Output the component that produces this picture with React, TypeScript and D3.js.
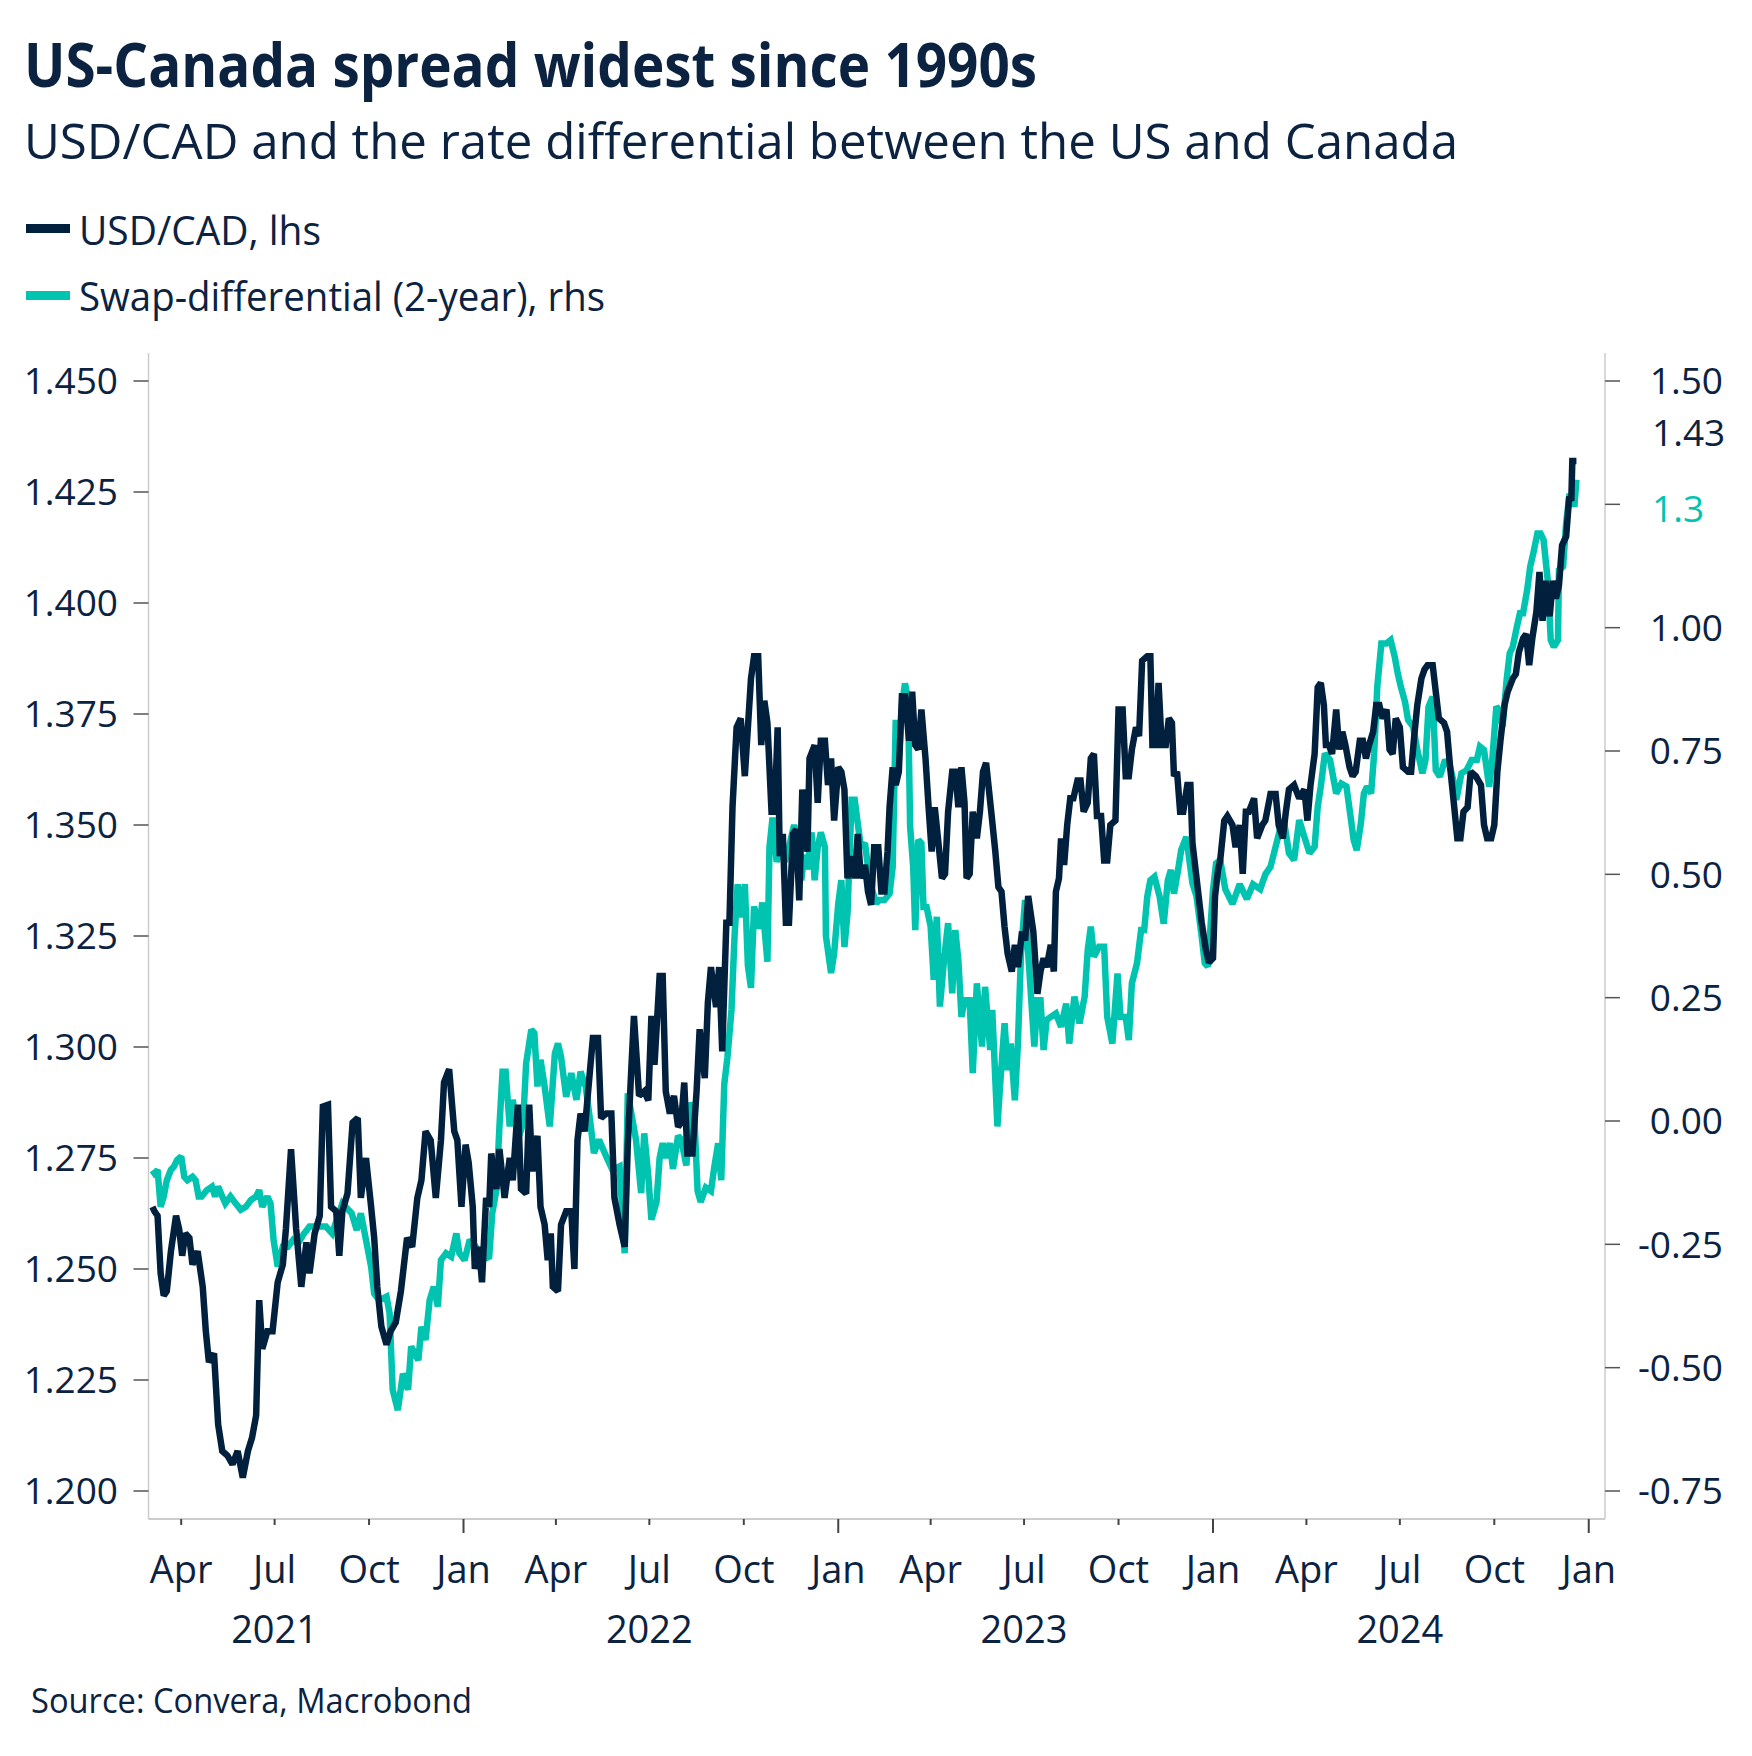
import React, { useEffect } from "react";
import * as d3 from "d3";

// ---------- DATA ----------
const usdcad: [string, number][] = [
  ["2021-03-04",1.264],["2021-03-06",1.263],["2021-03-09",1.262],["2021-03-12",1.249],["2021-03-15",1.244],
  ["2021-03-18",1.245],["2021-03-22",1.254],["2021-03-27",1.262],["2021-03-30",1.259],["2021-04-02",1.253],
  ["2021-04-05",1.258],["2021-04-09",1.257],["2021-04-12",1.251],["2021-04-17",1.254],["2021-04-22",1.246],
  ["2021-04-25",1.236],["2021-04-28",1.229],["2021-05-03",1.231],["2021-05-07",1.215],["2021-05-11",1.209],
  ["2021-05-16",1.208],["2021-05-21",1.206],["2021-05-26",1.209],["2021-05-31",1.203],["2021-06-05",1.209],
  ["2021-06-09",1.212],["2021-06-13",1.217],["2021-06-16",1.243],["2021-06-19",1.232],["2021-06-24",1.236],
  ["2021-06-29",1.236],["2021-07-04",1.247],["2021-07-09",1.251],["2021-07-12",1.259],["2021-07-17",1.277],
  ["2021-07-22",1.259],["2021-07-27",1.246],["2021-08-01",1.256],["2021-08-04",1.249],["2021-08-09",1.258],
  ["2021-08-14",1.262],["2021-08-17",1.2866],["2021-08-22",1.287],["2021-08-25",1.264],["2021-08-30",1.263],
  ["2021-09-02",1.253],["2021-09-05",1.263],["2021-09-10",1.267],["2021-09-15",1.283],["2021-09-20",1.284],
  ["2021-09-23",1.266],["2021-09-28",1.275],["2021-10-03",1.264],["2021-10-06",1.257],["2021-10-09",1.246],
  ["2021-10-13",1.237],["2021-10-18",1.233],["2021-10-22",1.236],["2021-10-27",1.238],["2021-11-01",1.245],
  ["2021-11-07",1.257],["2021-11-12",1.255],["2021-11-17",1.266],["2021-11-21",1.270],["2021-11-25",1.281],
  ["2021-11-30",1.279],["2021-12-05",1.266],["2021-12-10",1.279],["2021-12-13",1.292],["2021-12-18",1.295],
  ["2021-12-23",1.281],["2021-12-26",1.279],["2021-12-30",1.264],["2022-01-03",1.278],["2022-01-06",1.274],
  ["2022-01-10",1.264],["2022-01-12",1.250],["2022-01-16",1.255],["2022-01-19",1.247],["2022-01-23",1.266],
  ["2022-01-26",1.264],["2022-01-28",1.276],["2022-02-02",1.268],["2022-02-05",1.277],["2022-02-10",1.266],
  ["2022-02-15",1.275],["2022-02-18",1.270],["2022-02-23",1.287],["2022-02-26",1.268],["2022-03-03",1.267],
  ["2022-03-06",1.287],["2022-03-09",1.272],["2022-03-14",1.280],["2022-03-17",1.264],["2022-03-21",1.260],
  ["2022-03-24",1.252],["2022-03-27",1.258],["2022-03-29",1.246],["2022-04-03",1.245],["2022-04-06",1.260],
  ["2022-04-11",1.263],["2022-04-16",1.263],["2022-04-19",1.250],["2022-04-22",1.279],["2022-04-25",1.285],
  ["2022-04-29",1.281],["2022-05-02",1.289],["2022-05-07",1.302],["2022-05-12",1.302],["2022-05-15",1.284],
  ["2022-05-20",1.285],["2022-05-25",1.285],["2022-05-28",1.266],["2022-06-02",1.260],["2022-06-07",1.255],
  ["2022-06-10",1.278],["2022-06-13",1.293],["2022-06-16",1.307],["2022-06-21",1.289],["2022-06-26",1.290],
  ["2022-06-30",1.288],["2022-07-03",1.307],["2022-07-06",1.296],["2022-07-11",1.316],["2022-07-14",1.316],
  ["2022-07-17",1.290],["2022-07-21",1.285],["2022-07-25",1.289],["2022-07-29",1.282],["2022-08-01",1.283],
  ["2022-08-04",1.292],["2022-08-07",1.276],["2022-08-12",1.276],["2022-08-16",1.290],["2022-08-19",1.304],
  ["2022-08-24",1.293],["2022-08-27",1.310],["2022-08-30",1.318],["2022-09-04",1.309],["2022-09-07",1.318],
  ["2022-09-10",1.299],["2022-09-14",1.328],["2022-09-17",1.328],["2022-09-20",1.354],["2022-09-24",1.372],
  ["2022-09-28",1.374],["2022-10-02",1.361],["2022-10-05",1.372],["2022-10-08",1.383],["2022-10-11",1.388],
  ["2022-10-15",1.388],["2022-10-18",1.368],["2022-10-21",1.378],["2022-10-24",1.373],["2022-10-28",1.353],
  ["2022-10-31",1.353],["2022-11-03",1.372],["2022-11-05",1.343],["2022-11-08",1.348],["2022-11-11",1.328],
  ["2022-11-14",1.328],["2022-11-18",1.348],["2022-11-21",1.349],["2022-11-24",1.333],["2022-11-27",1.358],
  ["2022-12-02",1.344],["2022-12-04",1.365],["2022-12-09",1.368],["2022-12-12",1.355],["2022-12-15",1.369],
  ["2022-12-19",1.369],["2022-12-22",1.359],["2022-12-25",1.365],["2022-12-28",1.351],["2023-01-01",1.363],
  ["2023-01-04",1.362],["2023-01-07",1.358],["2023-01-10",1.338],["2023-01-14",1.343],["2023-01-17",1.338],
  ["2023-01-20",1.348],["2023-01-23",1.338],["2023-01-27",1.341],["2023-01-30",1.335],["2023-02-02",1.332],
  ["2023-02-05",1.345],["2023-02-09",1.345],["2023-02-12",1.335],["2023-02-15",1.335],["2023-02-18",1.344],
  ["2023-02-20",1.354],["2023-02-23",1.363],["2023-02-26",1.359],["2023-03-01",1.362],["2023-03-04",1.379],
  ["2023-03-07",1.379],["2023-03-11",1.369],["2023-03-14",1.380],["2023-03-17",1.368],["2023-03-20",1.367],
  ["2023-03-23",1.376],["2023-03-27",1.365],["2023-03-30",1.354],["2023-04-02",1.344],["2023-04-05",1.354],
  ["2023-04-09",1.345],["2023-04-12",1.338],["2023-04-15",1.339],["2023-04-18",1.353],["2023-04-22",1.362],
  ["2023-04-25",1.362],["2023-04-28",1.354],["2023-05-01",1.363],["2023-05-04",1.355],["2023-05-06",1.338],
  ["2023-05-09",1.339],["2023-05-12",1.353],["2023-05-16",1.347],["2023-05-19",1.353],["2023-05-22",1.362],
  ["2023-05-25",1.364],["2023-05-30",1.353],["2023-06-03",1.344],["2023-06-06",1.336],["2023-06-09",1.335],
  ["2023-06-12",1.327],["2023-06-15",1.321],["2023-06-19",1.317],["2023-06-22",1.323],["2023-06-25",1.318],
  ["2023-06-29",1.326],["2023-07-02",1.324],["2023-07-05",1.334],["2023-07-10",1.326],["2023-07-14",1.312],
  ["2023-07-17",1.317],["2023-07-20",1.320],["2023-07-23",1.318],["2023-07-27",1.323],["2023-07-30",1.317],
  ["2023-08-01",1.335],["2023-08-04",1.338],["2023-08-06",1.347],["2023-08-09",1.341],["2023-08-12",1.350],
  ["2023-08-15",1.356],["2023-08-18",1.356],["2023-08-22",1.360],["2023-08-25",1.360],["2023-08-28",1.353],
  ["2023-09-01",1.355],["2023-09-04",1.365],["2023-09-07",1.366],["2023-09-10",1.352],["2023-09-14",1.352],
  ["2023-09-17",1.342],["2023-09-20",1.342],["2023-09-23",1.350],["2023-09-28",1.351],["2023-10-01",1.376],
  ["2023-10-05",1.376],["2023-10-08",1.361],["2023-10-11",1.361],["2023-10-14",1.367],["2023-10-18",1.372],
  ["2023-10-21",1.370],["2023-10-24",1.387],["2023-10-29",1.388],["2023-11-01",1.388],["2023-11-03",1.368],
  ["2023-11-06",1.368],["2023-11-09",1.382],["2023-11-12",1.368],["2023-11-16",1.368],["2023-11-19",1.374],
  ["2023-11-22",1.373],["2023-11-24",1.361],["2023-11-27",1.362],["2023-11-30",1.353],["2023-12-03",1.353],
  ["2023-12-07",1.359],["2023-12-10",1.359],["2023-12-12",1.346],["2023-12-15",1.340],["2023-12-18",1.334],
  ["2023-12-21",1.328],["2023-12-25",1.322],["2023-12-28",1.319],["2024-01-01",1.320],["2024-01-03",1.334],
  ["2024-01-06",1.340],["2024-01-08",1.342],["2024-01-12",1.351],["2024-01-15",1.352],["2024-01-20",1.350],
  ["2024-01-23",1.345],["2024-01-27",1.350],["2024-01-30",1.339],["2024-02-02",1.353],["2024-02-05",1.353],
  ["2024-02-10",1.356],["2024-02-13",1.347],["2024-02-18",1.350],["2024-02-21",1.351],["2024-02-26",1.357],
  ["2024-03-02",1.357],["2024-03-05",1.350],["2024-03-09",1.347],["2024-03-12",1.353],["2024-03-15",1.358],
  ["2024-03-20",1.359],["2024-03-25",1.356],["2024-03-30",1.358],["2024-04-02",1.351],["2024-04-05",1.359],
  ["2024-04-09",1.366],["2024-04-12",1.381],["2024-04-15",1.382],["2024-04-18",1.377],["2024-04-20",1.368],
  ["2024-04-23",1.368],["2024-04-26",1.366],["2024-04-30",1.376],["2024-05-03",1.367],["2024-05-06",1.371],
  ["2024-05-09",1.368],["2024-05-13",1.363],["2024-05-16",1.361],["2024-05-19",1.362],["2024-05-23",1.369],
  ["2024-05-26",1.369],["2024-05-29",1.365],["2024-06-01",1.368],["2024-06-05",1.371],["2024-06-08",1.377],
  ["2024-06-11",1.377],["2024-06-14",1.374],["2024-06-18",1.376],["2024-06-21",1.367],["2024-06-24",1.366],
  ["2024-06-27",1.374],["2024-07-01",1.372],["2024-07-04",1.363],["2024-07-09",1.362],["2024-07-12",1.362],
  ["2024-07-15",1.370],["2024-07-18",1.377],["2024-07-22",1.383],["2024-07-25",1.385],["2024-07-28",1.386],
  ["2024-08-02",1.386],["2024-08-05",1.380],["2024-08-08",1.374],["2024-08-13",1.373],["2024-08-16",1.371],
  ["2024-08-19",1.363],["2024-08-23",1.354],["2024-08-26",1.347],["2024-08-29",1.347],["2024-09-01",1.353],
  ["2024-09-05",1.354],["2024-09-08",1.362],["2024-09-13",1.361],["2024-09-18",1.359],["2024-09-21",1.350],
  ["2024-09-24",1.347],["2024-09-28",1.347],["2024-10-01",1.350],["2024-10-04",1.362],["2024-10-07",1.369],
  ["2024-10-11",1.377],["2024-10-14",1.380],["2024-10-19",1.383],["2024-10-22",1.384],["2024-10-25",1.389],
  ["2024-10-29",1.392],["2024-11-01",1.393],["2024-11-04",1.386],["2024-11-07",1.392],["2024-11-11",1.398],
  ["2024-11-14",1.407],["2024-11-17",1.396],["2024-11-20",1.405],["2024-11-24",1.397],["2024-11-27",1.405],
  ["2024-11-30",1.401],["2024-12-03",1.404],["2024-12-06",1.413],["2024-12-10",1.415],["2024-12-13",1.424],
  ["2024-12-15",1.423],["2024-12-16",1.432],["2024-12-20",1.432]
];

const swapDiff: [string, number][] = [
  ["2021-03-04",-0.10],["2021-03-06",-0.106],["2021-03-09",-0.099],["2021-03-12",-0.174],["2021-03-15",-0.153],
  ["2021-03-18",-0.12],["2021-03-22",-0.099],["2021-03-25",-0.092],["2021-03-28",-0.079],["2021-04-01",-0.072],
  ["2021-04-04",-0.113],["2021-04-07",-0.12],["2021-04-12",-0.113],["2021-04-15",-0.12],["2021-04-18",-0.153],
  ["2021-04-21",-0.153],["2021-04-26",-0.14],["2021-05-01",-0.133],["2021-05-04",-0.153],["2021-05-07",-0.133],
  ["2021-05-11",-0.153],["2021-05-14",-0.167],["2021-05-19",-0.153],["2021-05-24",-0.167],["2021-05-29",-0.18],
  ["2021-06-03",-0.174],["2021-06-08",-0.16],["2021-06-13",-0.153],["2021-06-16",-0.14],["2021-06-19",-0.174],
  ["2021-06-24",-0.153],["2021-06-27",-0.167],["2021-06-30",-0.241],["2021-07-04",-0.295],["2021-07-09",-0.255],
  ["2021-07-14",-0.255],["2021-07-19",-0.241],["2021-07-24",-0.248],["2021-07-29",-0.23],["2021-08-04",-0.214],
  ["2021-08-10",-0.214],["2021-08-20",-0.214],["2021-08-26",-0.228],["2021-09-05",-0.167],["2021-09-14",-0.187],
  ["2021-09-19",-0.221],["2021-09-23",-0.187],["2021-09-28",-0.241],["2021-10-03",-0.295],["2021-10-06",-0.35],
  ["2021-10-11",-0.363],["2021-10-18",-0.356],["2021-10-21",-0.39],["2021-10-24",-0.545],["2021-10-29",-0.586],
  ["2021-11-03",-0.512],["2021-11-08",-0.545],["2021-11-11",-0.457],["2021-11-18",-0.485],["2021-11-21",-0.417],
  ["2021-11-25",-0.444],["2021-11-29",-0.363],["2021-12-03",-0.336],["2021-12-07",-0.376],["2021-12-10",-0.282],
  ["2021-12-15",-0.268],["2021-12-20",-0.275],["2021-12-25",-0.228],["2021-12-28",-0.268],["2022-01-02",-0.282],
  ["2022-01-07",-0.241],["2022-01-13",-0.255],["2022-01-19",-0.282],["2022-01-26",-0.275],["2022-01-29",-0.187],
  ["2022-02-02",-0.14],["2022-02-05",-0.011],["2022-02-08",0.10],["2022-02-11",0.10],["2022-02-15",-0.011],
  ["2022-02-18",0.043],["2022-02-23",-0.038],["2022-02-28",-0.005],["2022-03-03",0.117],["2022-03-08",0.185],
  ["2022-03-11",0.178],["2022-03-14",0.07],["2022-03-17",0.124],["2022-03-21",0.07],["2022-03-26",-0.011],
  ["2022-03-31",0.137],["2022-04-03",0.157],["2022-04-06",0.13],["2022-04-11",0.049],["2022-04-16",0.097],
  ["2022-04-21",0.043],["2022-04-25",0.10],["2022-04-30",0.07],["2022-05-05",-0.011],["2022-05-08",-0.065],
  ["2022-05-13",-0.038],["2022-05-20",-0.072],["2022-05-26",-0.099],["2022-06-02",-0.092],["2022-06-07",-0.268],
  ["2022-06-10",0.056],["2022-06-18",-0.038],["2022-06-23",-0.146],["2022-06-26",-0.025],["2022-06-30",-0.112],
  ["2022-07-03",-0.2],["2022-07-08",-0.164],["2022-07-11",-0.075],["2022-07-14",-0.045],["2022-07-17",-0.075],
  ["2022-07-21",-0.045],["2022-07-24",-0.097],["2022-07-29",-0.03],["2022-08-01",-0.037],["2022-08-06",-0.09],
  ["2022-08-11",0.038],["2022-08-14",0.0],["2022-08-17",-0.142],["2022-08-20",-0.164],["2022-08-25",-0.135],
  ["2022-08-30",-0.142],["2022-09-02",-0.097],["2022-09-06",-0.045],["2022-09-09",-0.12],["2022-09-12",0.075],
  ["2022-09-15",0.128],["2022-09-19",0.225],["2022-09-22",0.375],["2022-09-25",0.48],["2022-09-28",0.413],
  ["2022-10-02",0.48],["2022-10-05",0.315],["2022-10-08",0.27],["2022-10-11",0.435],["2022-10-16",0.39],
  ["2022-10-19",0.443],["2022-10-24",0.323],["2022-10-26",0.555],["2022-10-29",0.615],["2022-11-02",0.525],
  ["2022-11-06",0.555],["2022-11-10",0.525],["2022-11-14",0.555],["2022-11-19",0.6],["2022-11-23",0.57],
  ["2022-11-26",0.488],["2022-11-29",0.54],["2022-12-02",0.51],["2022-12-06",0.585],["2022-12-09",0.488],
  ["2022-12-12",0.555],["2022-12-15",0.585],["2022-12-19",0.555],["2022-12-20",0.375],["2022-12-25",0.30],
  ["2022-12-28",0.34],["2023-01-01",0.44],["2023-01-04",0.488],["2023-01-07",0.353],["2023-01-10",0.421],
  ["2023-01-14",0.651],["2023-01-17",0.651],["2023-01-20",0.603],["2023-01-23",0.556],["2023-01-27",0.563],
  ["2023-01-30",0.515],["2023-02-02",0.475],["2023-02-07",0.441],["2023-02-10",0.448],["2023-02-15",0.448],
  ["2023-02-20",0.461],["2023-02-23",0.515],["2023-02-26",0.813],["2023-03-01",0.732],["2023-03-04",0.84],
  ["2023-03-07",0.887],["2023-03-10",0.853],["2023-03-12",0.597],["2023-03-15",0.515],["2023-03-17",0.387],
  ["2023-03-20",0.57],["2023-03-23",0.563],["2023-03-25",0.434],["2023-03-28",0.434],["2023-04-01",0.394],
  ["2023-04-04",0.286],["2023-04-07",0.414],["2023-04-10",0.232],["2023-04-14",0.326],["2023-04-18",0.401],
  ["2023-04-22",0.259],["2023-04-25",0.387],["2023-04-28",0.326],["2023-05-01",0.211],["2023-05-04",0.245],
  ["2023-05-09",0.245],["2023-05-12",0.097],["2023-05-16",0.279],["2023-05-21",0.151],["2023-05-24",0.272],
  ["2023-05-29",0.144],["2023-05-31",0.225],["2023-06-05",-0.011],["2023-06-08",0.083],["2023-06-12",0.198],
  ["2023-06-15",0.103],["2023-06-18",0.157],["2023-06-22",0.042],["2023-06-25",0.157],["2023-06-28",0.34],
  ["2023-07-02",0.448],["2023-07-05",0.34],["2023-07-08",0.245],["2023-07-11",0.151],["2023-07-14",0.245],
  ["2023-07-17",0.245],["2023-07-20",0.144],["2023-07-23",0.205],["2023-07-27",0.211],["2023-08-01",0.218],
  ["2023-08-06",0.191],["2023-08-11",0.238],["2023-08-14",0.157],["2023-08-19",0.252],["2023-08-24",0.198],
  ["2023-08-29",0.252],["2023-09-01",0.347],["2023-09-04",0.394],["2023-09-07",0.333],["2023-09-12",0.353],
  ["2023-09-17",0.353],["2023-09-20",0.211],["2023-09-25",0.157],["2023-09-30",0.299],["2023-10-03",0.211],
  ["2023-10-08",0.211],["2023-10-11",0.164],["2023-10-14",0.279],["2023-10-19",0.32],["2023-10-23",0.387],
  ["2023-10-26",0.387],["2023-10-29",0.455],["2023-11-01",0.488],["2023-11-05",0.495],["2023-11-10",0.455],
  ["2023-11-14",0.40],["2023-11-18",0.488],["2023-11-21",0.509],["2023-11-24",0.461],["2023-11-28",0.509],
  ["2023-12-01",0.549],["2023-12-06",0.576],["2023-12-09",0.529],["2023-12-12",0.482],["2023-12-16",0.455],
  ["2023-12-21",0.374],["2023-12-24",0.32],["2023-12-27",0.313],["2024-01-01",0.468],["2024-01-04",0.522],
  ["2024-01-08",0.529],["2024-01-13",0.47],["2024-01-20",0.44],["2024-01-27",0.48],["2024-02-03",0.45],
  ["2024-02-09",0.48],["2024-02-16",0.47],["2024-02-21",0.50],["2024-02-26",0.515],["2024-03-02",0.556],
  ["2024-03-07",0.597],["2024-03-10",0.61],["2024-03-15",0.543],["2024-03-20",0.529],["2024-03-25",0.61],
  ["2024-03-30",0.576],["2024-04-04",0.543],["2024-04-09",0.556],["2024-04-12",0.637],["2024-04-15",0.678],
  ["2024-04-19",0.745],["2024-04-24",0.732],["2024-04-27",0.698],["2024-04-30",0.664],["2024-05-05",0.684],
  ["2024-05-10",0.678],["2024-05-14",0.617],["2024-05-17",0.57],["2024-05-20",0.549],["2024-05-24",0.603],
  ["2024-05-27",0.664],["2024-05-30",0.678],["2024-06-03",0.664],["2024-06-06",0.745],["2024-06-09",0.88],
  ["2024-06-13",0.968],["2024-06-18",0.968],["2024-06-22",0.975],["2024-06-26",0.941],["2024-06-29",0.907],
  ["2024-07-02",0.88],["2024-07-06",0.85],["2024-07-09",0.813],["2024-07-14",0.799],["2024-07-18",0.752],
  ["2024-07-23",0.705],["2024-07-26",0.732],["2024-07-29",0.84],["2024-08-02",0.86],["2024-08-05",0.711],
  ["2024-08-09",0.698],["2024-08-14",0.732],["2024-08-19",0.718],["2024-08-22",0.691],["2024-08-25",0.651],
  ["2024-08-30",0.705],["2024-09-04",0.711],["2024-09-09",0.732],["2024-09-14",0.732],["2024-09-17",0.759],
  ["2024-09-21",0.752],["2024-09-26",0.678],["2024-09-29",0.732],["2024-10-03",0.84],["2024-10-06",0.833],
  ["2024-10-09",0.799],["2024-10-13",0.894],["2024-10-16",0.948],["2024-10-19",0.961],["2024-10-23",1.002],
  ["2024-10-26",1.029],["2024-10-29",1.029],["2024-11-02",1.076],["2024-11-05",1.124],["2024-11-08",1.151],
  ["2024-11-12",1.191],["2024-11-15",1.191],["2024-11-18",1.178],["2024-11-22",1.097],["2024-11-25",0.975],
  ["2024-11-28",0.961],["2024-12-02",0.975],["2024-12-03",1.117],["2024-12-07",1.124],["2024-12-10",1.212],
  ["2024-12-13",1.266],["2024-12-16",1.266],["2024-12-18",1.245],["2024-12-20",1.30]
];

const leftTicks = [1.2, 1.225, 1.25, 1.275, 1.3, 1.325, 1.35, 1.375, 1.4, 1.425, 1.45];
const rightTicks = [-0.75, -0.5, -0.25, 0, 0.25, 0.5, 0.75, 1.0, 1.25, 1.5];
const seriesNames = ["USD/CAD, lhs", "Swap-differential (2-year), rhs"];
const titleText = "US-Canada spread widest since 1990s";
const subtitleText = "USD/CAD and the rate differential between the US and Canada";
const sourceText = "Source: Convera, Macrobond";

// ---------- STYLE ----------
const W = 1752;
const H = 1756;
const NAVY = "#0b2341";
const DARK = "#01203d";
const TEAL = "#00c4b0";
const AXIS = "#cccccc";
const TICK = "#555555";
const FONT = "'Open Sans', 'Noto Sans', sans-serif";

const locale = d3.formatLocale({ decimal: ".", thousands: ",", grouping: [3], currency: ["$", ""], minus: "-" });
const fmtL = locale.format(".3f");
const fmtR = locale.format(".2f");
const fmtVal = locale.format(".2~f");

export default function App() {
  useEffect(() => {
    document.body.style.margin = "0";
  }, []);

  const parse = d3.utcParse("%Y-%m-%d");
  const left = 148.5, right = 1605, top = 353, bottom = 1519;

  const x = d3.scaleUtc()
    .domain([new Date(Date.UTC(2021, 1, 28, 4)), new Date(Date.UTC(2025, 0, 16, 20))])
    .range([left, right]);
  const yL = d3.scaleLinear().domain([1.2, 1.45]).range([1491, 381]);
  const yR = d3.scaleLinear().domain([-0.75, 1.5]).range([1491, 381]);

  const dark = usdcad.map(([d, v]) => ({ d: parse(d) as Date, v }));
  const teal = swapDiff.map(([d, v]) => ({ d: parse(d) as Date, v }));

  const lineL = d3.line<{ d: Date; v: number }>().x((p) => x(p.d)).y((p) => yL(p.v));
  const lineR = d3.line<{ d: Date; v: number }>().x((p) => x(p.d)).y((p) => yR(p.v));

  const quarterTicks = d3.utcMonth.every(3)!.range(new Date(Date.UTC(2021, 3, 1)), new Date(Date.UTC(2025, 0, 2)));
  const years = d3.utcYear.range(new Date(Date.UTC(2021, 0, 1)), new Date(Date.UTC(2025, 0, 1)));
  const fmtMonth = d3.utcFormat("%b");
  const fmtYear = d3.utcFormat("%Y");

  // end-value labels with simple collision avoidance
  const lastDark = dark[dark.length - 1].v;
  const lastTeal = teal[teal.length - 1].v;
  const labs = [
    { text: fmtVal(lastDark), y: yL(lastDark), color: NAVY },
    { text: fmtVal(lastTeal), y: yR(lastTeal), color: TEAL },
  ].sort((a, b) => a.y - b.y);
  const minGap = 76;
  if (labs[1].y - labs[0].y < minGap) {
    const mid = (labs[0].y + labs[1].y) / 2;
    labs[0].y = mid - minGap / 2;
    labs[1].y = mid + minGap / 2;
  }
  const rightLabelVisible = (t: number) => labs.every((l) => Math.abs(l.y - yR(t)) > 30);

  const numSize = 37;
  const dyNum = numSize * 0.357;
  const SW = 6.5;

  return (
    <svg
      width={W}
      height={H}
      viewBox={`0 0 ${W} ${H}`}
      style={{ position: "absolute", left: 0, top: 0, display: "block", background: "#fff" }}
      fontFamily={FONT}
    >
      <rect x={0} y={0} width={W} height={H} fill="#ffffff" />
      {/* Titles */}
      <text x={24} y={87} fontSize={61} fontWeight={700} fill={NAVY} textLength={1013} lengthAdjust="spacingAndGlyphs">
        {titleText}
      </text>
      <text x={24} y={159} fontSize={50} fill={NAVY} textLength={1434} lengthAdjust="spacingAndGlyphs">
        {subtitleText}
      </text>

      {/* Legend */}
      <rect x={26} y={224} width={44} height={9} fill={DARK} />
      <text x={79} y={245} fontSize={40} fill={NAVY} textLength={242} lengthAdjust="spacingAndGlyphs">
        {seriesNames[0]}
      </text>
      <rect x={26} y={291} width={44} height={9} fill={TEAL} />
      <text x={79} y={311} fontSize={40} fill={NAVY} textLength={526} lengthAdjust="spacingAndGlyphs">
        {seriesNames[1]}
      </text>

      {/* Frame */}
      <line x1={left} x2={left} y1={top} y2={bottom} stroke={AXIS} strokeWidth={1.5} />
      <line x1={right} x2={right} y1={top} y2={bottom} stroke={AXIS} strokeWidth={1.5} />
      <line x1={left} x2={right} y1={bottom} y2={bottom} stroke={AXIS} strokeWidth={2} />

      {/* Left axis */}
      {leftTicks.map((t) => (
        <g key={"l" + t}>
          <line x1={left - 15} x2={left} y1={yL(t)} y2={yL(t)} stroke={TICK} strokeWidth={1.5} />
          <text x={118} y={yL(t) + dyNum} fontSize={numSize} textAnchor="end" fill={NAVY}>
            {fmtL(t)}
          </text>
        </g>
      ))}

      {/* Right axis */}
      {rightTicks.map((t) => (
        <g key={"r" + t}>
          <line x1={right} x2={right + 15} y1={yR(t)} y2={yR(t)} stroke={TICK} strokeWidth={1.5} />
          {rightLabelVisible(t) && (
            <text x={1723} y={yR(t) + dyNum} fontSize={numSize} textAnchor="end" fill={NAVY}>
              {fmtR(t)}
            </text>
          )}
        </g>
      ))}
      {labs.map((l) => (
        <text key={l.text} x={1652} y={l.y + dyNum} fontSize={numSize} textAnchor="start" fill={l.color}>
          {l.text}
        </text>
      ))}

      {/* X axis */}
      {quarterTicks.map((d) => {
        const isJan = d.getUTCMonth() === 0;
        return (
          <g key={d.toISOString()}>
            <line
              x1={x(d)}
              x2={x(d)}
              y1={bottom}
              y2={bottom + (isJan ? 14 : 6)}
              stroke="#444"
              strokeWidth={2}
            />
            <text x={x(d)} y={1583} fontSize={38} textAnchor="middle" fill={NAVY}>
              {fmtMonth(d)}
            </text>
          </g>
        );
      })}
      {years.map((yv) => (
        <text
          key={"y" + yv.toISOString()}
          x={x(new Date(Date.UTC(yv.getUTCFullYear(), 6, 1)))}
          y={1643}
          fontSize={38}
          textAnchor="middle"
          fill={NAVY}
        >
          {fmtYear(yv)}
        </text>
      ))}

      {/* Series */}
      <path d={lineR(teal) || ""} fill="none" stroke={TEAL} strokeWidth={SW} strokeLinejoin="miter" strokeMiterlimit={2} />
      <path d={lineL(dark) || ""} fill="none" stroke={DARK} strokeWidth={SW} strokeLinejoin="miter" strokeMiterlimit={2} />

      {/* Source */}
      <text x={31} y={1713} fontSize={34} fill={NAVY} textLength={441} lengthAdjust="spacingAndGlyphs">
        {sourceText}
      </text>
    </svg>
  );
}
